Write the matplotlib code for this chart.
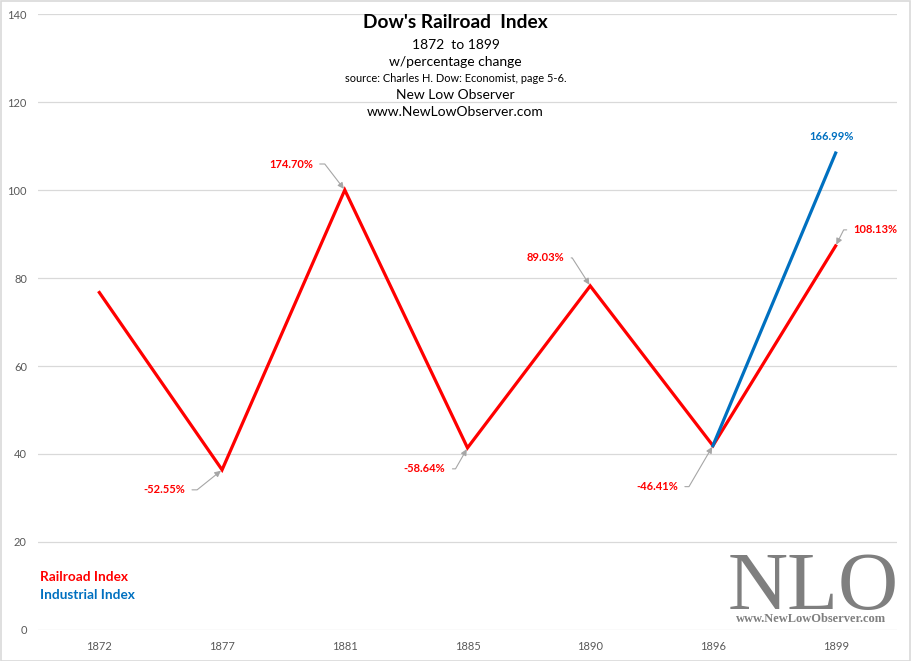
import matplotlib
matplotlib.use("Agg")
import matplotlib.pyplot as plt
from matplotlib.patches import Rectangle

plt.rcParams['font.family'] = ['Lato', 'DejaVu Sans']

# data
years = ['1872', '1877', '1881', '1885', '1890', '1896', '1899']
railroad = [76.7, 36.4, 100.0, 41.4, 78.2, 41.9, 87.3]
industrial_years = ['1896', '1899']
industrial = [41.9, 108.4]
rail_labels = ['', '-52.55%', '174.70%', '-58.64%', '89.03%', '-46.41%', '108.13%']
ind_label = '166.99%'
yticks = [0, 20, 40, 60, 80, 100, 120, 140]

red = '#FF0000'
blue = '#0070C0'
grid = '#D9D9D9'
txt = '#595959'

fig = plt.figure(figsize=(9.11, 6.61), dpi=100)
ax = fig.add_axes([38/911, 31/661, 859/911, 616/661])

x = list(range(len(years)))
ax.plot(x, railroad, color=red, lw=2.3, solid_joinstyle='miter', zorder=3)
xi = [years.index(y) for y in industrial_years]
ax.plot(xi, industrial, color=blue, lw=2.3, zorder=4)

ax.set_xlim(-0.5, len(years) - 0.5)
ax.set_ylim(0, 140)
ax.set_yticks(yticks)
ax.set_xticks(x)
ax.set_xticklabels(years)
ax.grid(axis='y', color=grid, lw=0.9)
ax.set_axisbelow(True)
for s in ax.spines.values():
    s.set_visible(False)
ax.tick_params(length=0, labelsize=8, colors=txt, pad=8)

# data labels with leader lines: (text offset px, ha, connection angle)
label_style = {
    1: ((-37, -20), 'right', 38.7),
    2: ((-32, 26), 'right', 127.6),
    3: ((-22, -21), 'right', 60.3),
    4: ((-26, 28), 'right', 122.7),
    5: ((-35, -41), 'right', 59.7),
    6: ((18, 16), 'left', 63.4),
}
for i, (off, ha, ang) in label_style.items():
    rel = (1, 0.5) if ha == 'right' else (0, 0.5)
    ax.annotate(rail_labels[i], xy=(i, railroad[i]), xytext=off,
                textcoords='offset pixels', ha=ha, va='center',
                color=red, fontsize=8, fontweight='bold',
                arrowprops=dict(arrowstyle='-|>,head_length=0.45,head_width=0.22',
                                color='#A6A6A6', lw=0.8, relpos=rel,
                                shrinkA=3, shrinkB=1,
                                connectionstyle=f'angle,angleA=0,angleB={ang},rad=0'))

ax.annotate(ind_label, xy=(xi[-1], industrial[-1]), xytext=(-4, 17),
            textcoords='offset pixels', ha='center', va='center',
            color=blue, fontsize=8, fontweight='bold')

# titles
cx = 455.5/911
fig.text(cx, 1 - 22/661, "Dow's Railroad  Index", ha='center', va='center',
         fontsize=13.8, fontweight='bold', color='black')
fig.text(cx, 1 - 45/661, "1872  to 1899", ha='center', va='center', fontsize=10)
fig.text(cx, 1 - 62/661, "w/percentage change", ha='center', va='center', fontsize=10)
fig.text(cx, 1 - 78/661, "source: Charles H. Dow: Economist, page 5-6.",
         ha='center', va='center', fontsize=7.9)
fig.text(cx, 1 - 95/661, "New Low Observer", ha='center', va='center', fontsize=10)
fig.text(cx, 1 - 112/661, "www.NewLowObserver.com", ha='center', va='center', fontsize=10)

# legend text
fig.text(40/911, 1 - 577/661, "Railroad Index", color=red, fontsize=9.8,
         fontweight='bold', va='center')
fig.text(40/911, 1 - 595/661, "Industrial Index", color=blue, fontsize=9.8,
         fontweight='bold', va='center')

# NLO logo
fig.text(813/911, 1 - 609/661, "NLO", ha='center', va='baseline', color='#7F7F7F',
         fontsize=60, family='Liberation Serif')
fig.text(811/911, 1 - 619/661, "www.NewLowObserver.com", ha='center', va='center',
         color='#7F7F7F', fontsize=9, fontweight='bold', family='Liberation Serif')

# chart border
fig.patches.append(Rectangle((0.5/911, 0.5/661), 1 - 1.5/911, 1 - 1.5/661,
                             transform=fig.transFigure, fill=False,
                             edgecolor=grid, lw=1.2))

fig.savefig('out.png', dpi=100)
